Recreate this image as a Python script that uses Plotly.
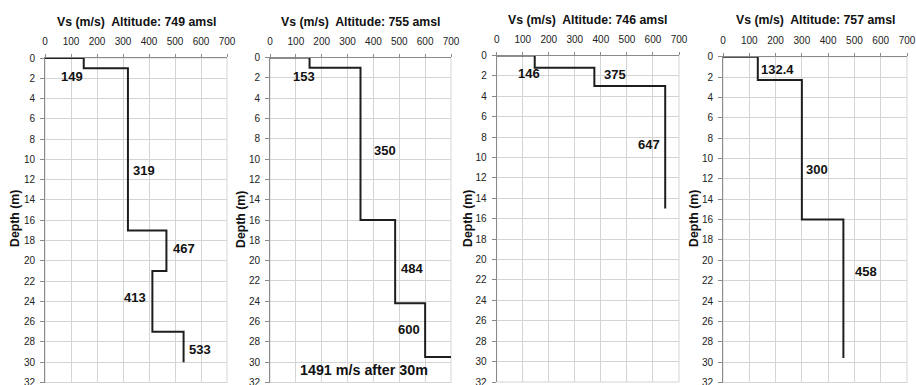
import plotly.graph_objects as go

# Shear-wave velocity profiles: layer velocities (m/s) and layer top depths (m)
altitudes = [749, 755, 746, 757]

vs_1 = [149, 319, 467, 413, 533]
top_1 = [0, 1, 17, 21, 27]
base_1 = 30

vs_2 = [153, 350, 484, 600]
top_2 = [0, 1, 16, 24.2]
base_2 = 29.5
halfspace_2 = 1491

vs_3 = [146, 375, 647]
top_3 = [0, 1.2, 3]
base_3 = 15

vs_4 = [132.4, 300, 458]
top_4 = [0, 2.3, 16]
base_4 = 29.6

x_ticks = [0, 100, 200, 300, 400, 500, 600, 700]
depth_ticks = list(range(0, 33, 2))

profiles = [
    (vs_1, top_1, base_1, None),
    (vs_2, top_2, base_2, halfspace_2),
    (vs_3, top_3, base_3, None),
    (vs_4, top_4, base_4, None),
]

# Where each velocity label sits (velocity, depth) in its panel
label_pos = [
    [(103, 1.8), (382, 11.1), (535, 18.8), (346, 23.6), (596, 28.75)],
    [(130, 1.9), (445, 9.15), (550, 20.8), (536, 26.8)],
    [(124, 1.72), (455, 1.9), (583, 8.7)],
    [(206, 1.26), (358, 11.05), (543, 21.1)],
]

# Panel placement in pixels: (left, right, top, bottom)
W, H = 916, 385
panel_px = [(45, 227, 58, 382.5), (270, 451, 57.5, 382.5),
            (496.7, 679, 55.5, 382), (723, 907, 56.7, 382.5)]
title_y_px = [22.3, 22.3, 19.7, 20.0]
ytitle_x_px = [15, 241, 468, 694]

FONT = "Arial, Liberation Sans, sans-serif"
GRID = "#d4d4d4"
AXIS = "#8a8a8a"


def step_profile(vs, tops, base, halfspace):
    xs, ys = [0], [0]
    bottoms = tops[1:] + [base]
    for v, t, b in zip(vs, tops, bottoms):
        xs += [v, v]
        ys += [t, b]
    if halfspace is not None:
        xs.append(halfspace)
        ys.append(base)
    return xs, ys


fig = go.Figure()
annotations = []
shapes = []

for i, ((vs, tops, base, hs), (l, r, t, b)) in enumerate(zip(profiles, panel_px)):
    n = "" if i == 0 else str(i + 1)
    xs, ys = step_profile(vs, tops, base, hs)

    # light frame on the right and bottom edges of the plot area
    shapes.append(dict(
        type="rect", xref=f"x{n} domain", yref=f"y{n} domain",
        x0=0, x1=1, y0=0, y1=1, line=dict(color=GRID, width=1), layer="below",
    ))

    fig.add_trace(go.Scatter(
        x=xs, y=ys, mode="lines",
        line=dict(color="#1e1e1e", width=2),
        xaxis="x" + n, yaxis="y" + n, showlegend=False, hoverinfo="skip",
    ))

    fig.update_layout(**{
        "xaxis" + n: dict(
            domain=[l / W, r / W], anchor="y" + n, side="top",
            range=[0, 700], tickvals=x_ticks, ticks="outside", ticklen=3,
            tickcolor=AXIS, showline=True, linecolor=AXIS, linewidth=1,
            showgrid=True, gridcolor=GRID, gridwidth=1, zeroline=False,
            ticklabelstandoff=5, ticklabeloverflow="allow", automargin=False,
            tickfont=dict(family=FONT, size=10, color="#222"), fixedrange=True,
        ),
        "yaxis" + n: dict(
            domain=[1 - b / H, 1 - t / H], anchor="x" + n,
            range=[32, 0], tickvals=depth_ticks, ticks="outside", ticklen=4,
            tickcolor=AXIS, showline=True, linecolor=AXIS, linewidth=1,
            showgrid=True, gridcolor=GRID, gridwidth=1, zeroline=False,
            ticklabelstandoff=3, ticklabeloverflow="allow", automargin=False,
            tickfont=dict(family=FONT, size=10, color="#222"), fixedrange=True,
        ),
    })

    # Panel heading
    annotations.append(dict(
        text=f"<b>Vs (m/s)\u00a0 Altitude: {altitudes[i]} amsl</b>",
        xref="paper", yref="paper", x=(l + r) / 2 / W, y=1 - title_y_px[i] / H,
        xanchor="center", yanchor="middle", showarrow=False,
        font=dict(family=FONT, size=12.3, color="#111"),
    ))
    # Depth axis title
    annotations.append(dict(
        text="<b>Depth (m)</b>", textangle=-90,
        xref="paper", yref="paper", x=ytitle_x_px[i] / W, y=1 - 219 / H,
        xanchor="center", yanchor="middle", showarrow=False,
        font=dict(family=FONT, size=12.3, color="#111"),
    ))
    # Layer velocity labels
    for v, (px, py) in zip(vs, label_pos[i]):
        annotations.append(dict(
            text=f"<b>{v:g}</b>", x=px, y=py, xref="x" + n, yref="y" + n,
            xanchor="center", yanchor="middle", showarrow=False,
            font=dict(family=FONT, size=13, color="#111"),
        ))

annotations.append(dict(
    text=f"<b>{halfspace_2} m/s after 30m</b>", x=363, y=30.8,
    xref="x2", yref="y2", xanchor="center", yanchor="middle", showarrow=False,
    font=dict(family=FONT, size=14.3, color="#111"),
))

fig.update_layout(
    width=W, height=H,
    margin=dict(l=0, r=0, t=0, b=0, autoexpand=False),
    paper_bgcolor="white", plot_bgcolor="white",
    annotations=annotations, shapes=shapes,
)

fig.write_html("out.html")
